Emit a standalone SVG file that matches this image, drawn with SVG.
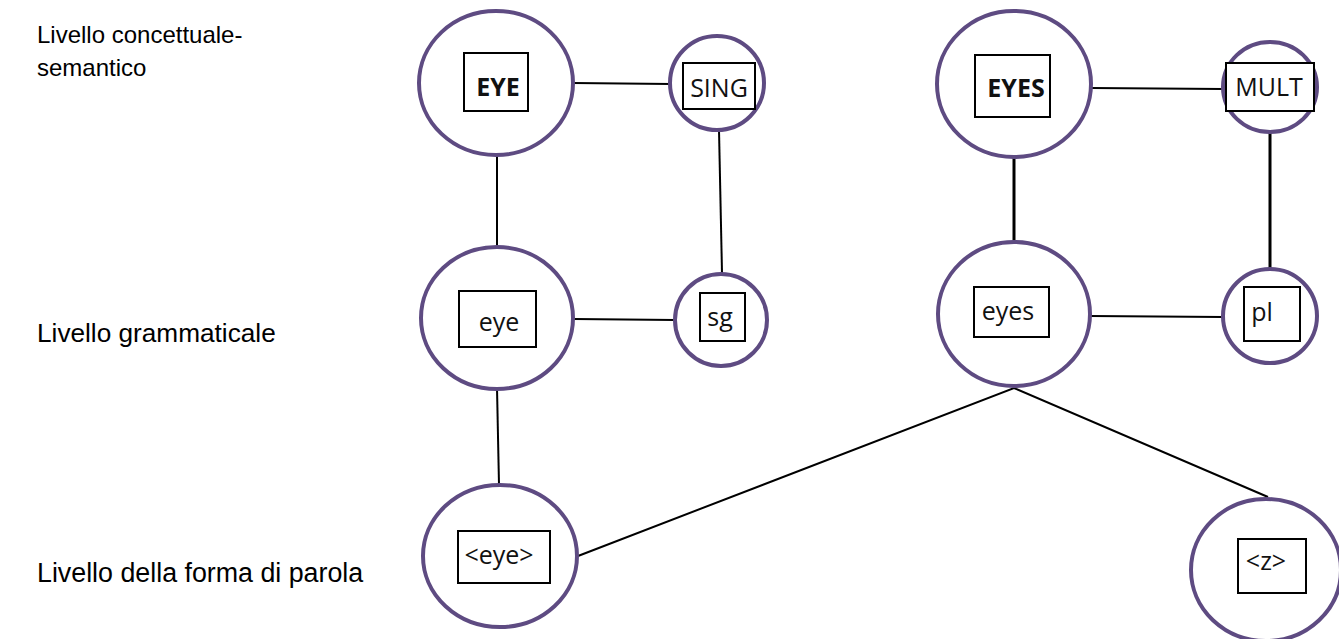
<svg xmlns="http://www.w3.org/2000/svg" width="1339" height="639" viewBox="0 0 1339 639">
  <style>
    .ring { fill: #ffffff; stroke: #5e4b82; stroke-width: 4; }
    .box { fill: #ffffff; stroke: #000000; stroke-width: 2; }
    .lbl { font-family: "Open Sans", "Noto Sans", "Liberation Sans", sans-serif; font-size: 25px; fill: #111111; text-anchor: middle; }
    .bold { font-weight: bold; }
    .level { font-family: "Liberation Sans", Arial, sans-serif; fill: #000000; }
    .link { stroke: #000000; stroke-width: 2; fill: none; }
    .thick { stroke-width: 3; }
  </style>
  <rect x="0" y="0" width="1339" height="639" fill="#ffffff"/>

  <!-- level captions -->
  <g id="levels">
    <text class="level" x="37" y="43" font-size="24">Livello concettuale-</text>
    <text class="level" x="37" y="76" font-size="24">semantico</text>
    <text class="level" x="37" y="342" font-size="26.2">Livello grammaticale</text>
    <text class="level" x="37" y="582" font-size="26.8">Livello della forma di parola</text>
  </g>

  <!-- connectors -->
  <g id="connectors">
    <line class="link" x1="573" y1="83" x2="671" y2="84"/>
    <line class="link" x1="1091" y1="88" x2="1223" y2="89"/>
    <line class="link" x1="574" y1="319" x2="675" y2="320"/>
    <line class="link" x1="1090" y1="316" x2="1223" y2="317"/>
    <line class="link" x1="497" y1="155" x2="497" y2="247"/>
    <line class="link" x1="719" y1="130" x2="722" y2="273"/>
    <line class="link thick" x1="1014" y1="157" x2="1014" y2="242"/>
    <line class="link thick" x1="1270" y1="132" x2="1270" y2="269"/>
    <line class="link" x1="497" y1="388" x2="499" y2="485"/>
    <polyline class="link" points="578,556 1014,388 1268,497"/>
  </g>

  <!-- conceptual-semantic level -->
  <g id="node-EYE">
    <ellipse class="ring" cx="496" cy="83" rx="77" ry="72"/>
    <rect class="box" x="464" y="53" width="64" height="58"/>
    <text class="lbl bold" x="498" y="96">EYE</text>
  </g>
  <g id="node-SING">
    <circle class="ring" cx="717" cy="83" r="47"/>
    <rect class="box" x="683" y="63" width="72" height="46"/>
    <text class="lbl" x="719" y="97">SING</text>
  </g>
  <g id="node-EYES">
    <ellipse class="ring" cx="1014" cy="84" rx="77" ry="73"/>
    <rect class="box" x="975" y="55" width="75" height="62"/>
    <text class="lbl bold" x="1016" y="97">EYES</text>
  </g>
  <g id="node-MULT">
    <ellipse class="ring" cx="1270" cy="87" rx="47" ry="45"/>
    <rect class="box" x="1226" y="63" width="88" height="48"/>
    <text class="lbl" x="1269" y="96">MULT</text>
  </g>

  <!-- grammatical level -->
  <g id="node-eye">
    <ellipse class="ring" cx="497" cy="318" rx="76" ry="71"/>
    <rect class="box" x="459" y="291" width="77" height="56"/>
    <text class="lbl" x="499" y="331">eye</text>
  </g>
  <g id="node-sg">
    <circle class="ring" cx="721" cy="320" r="46"/>
    <rect class="box" x="700" y="293" width="45" height="48"/>
    <text class="lbl" x="720" y="326">sg</text>
  </g>
  <g id="node-eyes">
    <ellipse class="ring" cx="1014" cy="314" rx="76" ry="72"/>
    <rect class="box" x="974" y="287" width="75" height="50"/>
    <text class="lbl" x="1008" y="320">eyes</text>
  </g>
  <g id="node-pl">
    <circle class="ring" cx="1270" cy="316" r="47"/>
    <rect class="box" x="1244" y="287" width="56" height="54"/>
    <text class="lbl" x="1262" y="321">pl</text>
  </g>

  <!-- word-form level -->
  <g id="node-form-eye">
    <ellipse class="ring" cx="500" cy="556" rx="77" ry="71"/>
    <rect class="box" x="458" y="531" width="92" height="52"/>
    <text class="lbl" x="499" y="564">&lt;eye&gt;</text>
  </g>
  <g id="node-form-z">
    <ellipse class="ring" cx="1266" cy="570" rx="75" ry="71"/>
    <rect class="box" x="1238" y="539" width="68" height="54"/>
    <text class="lbl" x="1266" y="570">&lt;z&gt;</text>
  </g>
</svg>
